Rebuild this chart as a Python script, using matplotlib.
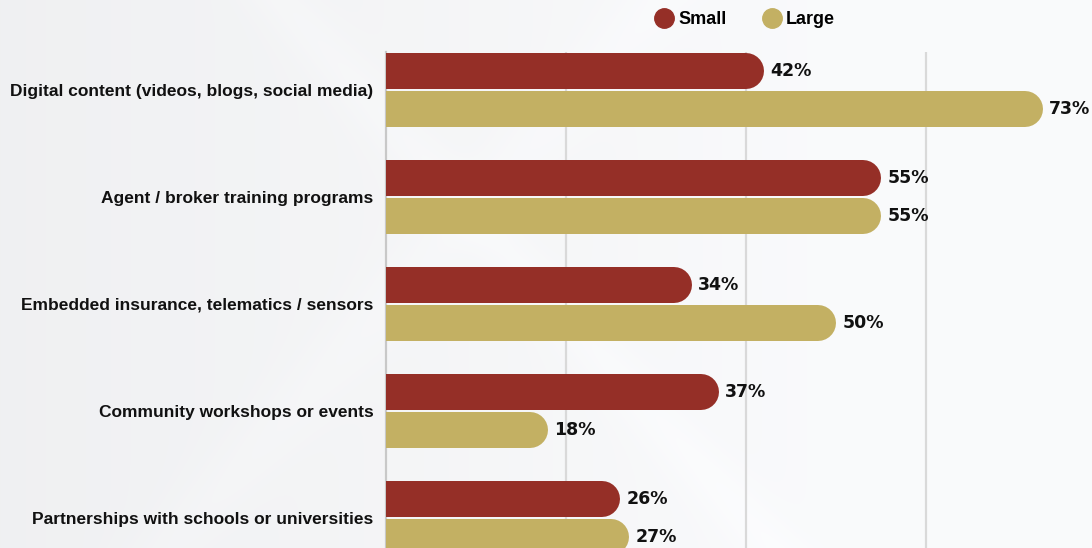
import matplotlib
matplotlib.use("Agg")
import matplotlib.pyplot as plt
import numpy as np
from matplotlib.lines import Line2D

categories = [
    "Digital content (videos, blogs, social media)",
    "Agent / broker training programs",
    "Embedded insurance, telematics / sensors",
    "Community workshops or events",
    "Partnerships with schools or universities",
]
small = [42, 55, 34, 37, 26]
large = [73, 55, 50, 18, 27]
series_names = ["Small", "Large"]

RED = "#952f27"
GOLD = "#c3b063"
FONT = "Liberation Sans"

plt.rcParams["font.family"] = FONT

fig = plt.figure(figsize=(10.92, 5.48), dpi=100)

# soft grey backdrop, a touch darker on the left, with faint diagonal bands
h, w = 274, 546
yy, xx = np.mgrid[0:h, 0:w]
base = 0.945 + 0.038 * np.clip(xx / (w * 0.75), 0, 1)
band1 = 0.010 * np.exp(-((xx - 0.9 * yy - 140) / 18.0) ** 2)
band2 = 0.008 * np.exp(-((xx + 0.9 * yy - 330) / 22.0) ** 2)
lum = np.clip(base + band1 + band2, 0, 1)
bg = np.dstack([lum - 0.005, lum - 0.002, lum + 0.004])
bg = np.clip(bg, 0, 1)
bg_ax = fig.add_axes([0, 0, 1, 1], zorder=-10)
bg_ax.imshow(bg, aspect="auto", extent=[0, 1, 0, 1], interpolation="bilinear")
bg_ax.set_axis_off()

ax = fig.add_axes([386 / 1092, 0, 706 / 1092, 496 / 548])
ax.patch.set_alpha(0)

x_max = 706 / 9.0
ax.set_xlim(0, x_max)
ax.set_ylim(4.636 - 0.355, -0.355)

bar_px = 36
offset = 19 / 107
px_per_unit = 706 / x_max
cap = (bar_px / 2) / px_per_unit
lw_pt = bar_px * 72 / fig.dpi

y = np.arange(len(categories))
for vals, dy, color in [(small, -offset, RED), (large, offset, GOLD)]:
    for yi, v in zip(y, vals):
        # round cap gives the rounded right end; the left cap is clipped at x=0
        ax.plot([0, v - cap], [yi + dy, yi + dy], color=color, lw=lw_pt,
                solid_capstyle="round", zorder=3)
        ax.text(v + 0.7, yi + dy, f"{v}%", va="center", ha="left",
                fontsize=12.5, fontweight="bold", family="DejaVu Sans",
                color="#111111", zorder=4)

ax.set_yticks(y)
ax.set_yticklabels(categories, fontsize=12.5, fontweight="bold", color="#111111")
ax.tick_params(axis="y", length=0, pad=9)
ax.set_xticks([20, 40, 60])
ax.tick_params(axis="x", length=0, labelbottom=False)
ax.grid(axis="x", color="#d9d9d9", lw=1.6, zorder=0)
ax.set_axisbelow(True)
for side in ["top", "right", "bottom"]:
    ax.spines[side].set_visible(False)
ax.spines["left"].set_color("#c8c8c8")
ax.spines["left"].set_linewidth(1.6)

handles = [Line2D([], [], marker="o", ls="", markersize=14, color=c)
           for c in (RED, GOLD)]
fig.legend(handles, series_names, loc="center", bbox_to_anchor=(745 / 1092, 1 - 20 / 548),
           ncol=2, frameon=False, prop={"family": FONT, "weight": "bold", "size": 13},
           handletextpad=0.3, columnspacing=2.0, handlelength=1.0)

fig.savefig("out.png", dpi=100)
